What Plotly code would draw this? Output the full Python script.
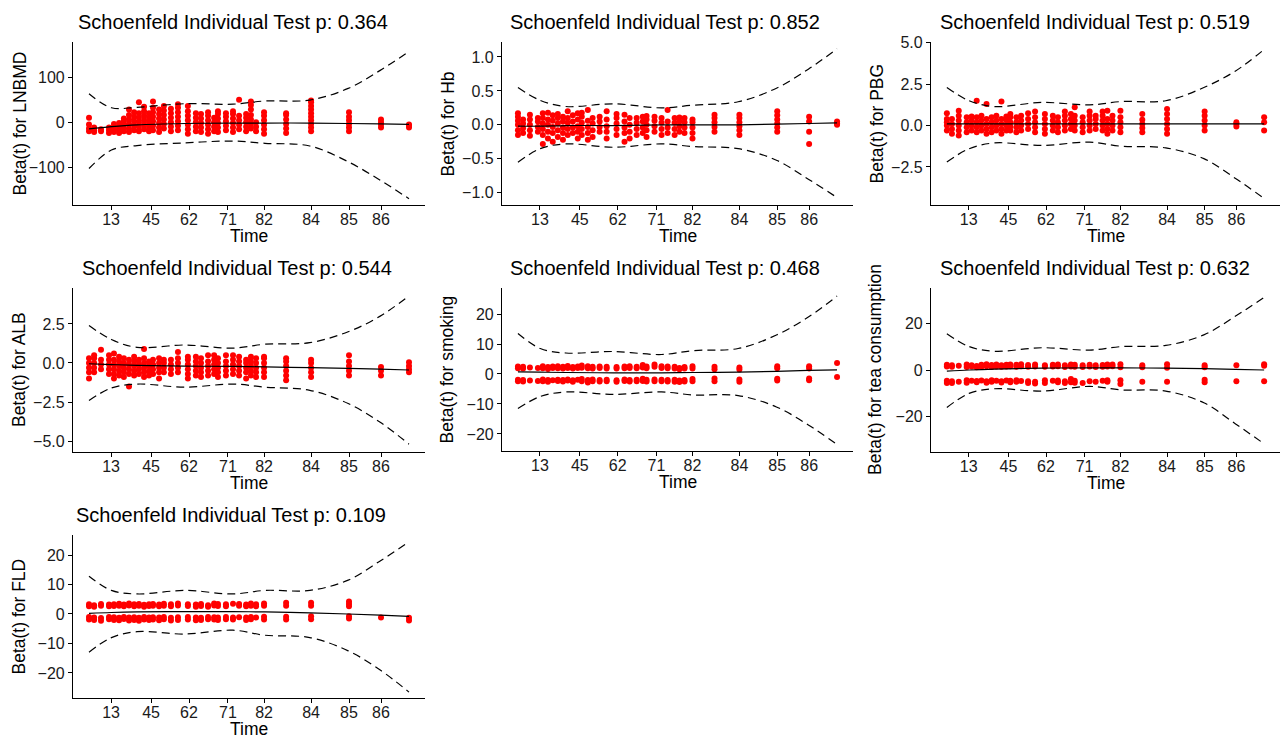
import plotly.graph_objects as go

# ---------------- data ----------------
# event-time stacks on the (KM-transformed) time axis
time_pos = [0.0, 0.016, 0.0375, 0.0625, 0.078, 0.094, 0.109, 0.125, 0.141, 0.156,
            0.172, 0.1875, 0.2, 0.219, 0.234, 0.256, 0.278, 0.309, 0.334, 0.35,
            0.372, 0.391, 0.403, 0.428, 0.45, 0.469, 0.491, 0.506, 0.522, 0.547,
            0.616, 0.694, 0.8125, 0.9125, 1.0]
tick_pos = [0.069, 0.194, 0.3125, 0.434, 0.547, 0.694, 0.8125, 0.9125]
tick_labels = ["13", "45", "62", "71", "82", "84", "85", "86"]

# grid for smoothed beta(t) and its confidence band
grid = [0, 0.07, 0.15, 0.3, 0.45, 0.55, 0.69, 0.81, 0.91, 1.0]

lnbmd_resid = [
    [-20, -14, -5, 10], [-22, -18, -12], [-20, -16], [-24, -18, -12], [-22, -16, -10, -4],
    [-24, -18, -10, -2], [-20, -14, -6, 2, 8], [-22, -14, -4, 6, 16, 28], [-18, -8, 2, 12, 22],
    [-20, -10, 0, 10, 20, 44], [-16, -6, 4, 14, 24, 34], [-20, -10, 0, 10, 20],
    [-18, -8, 2, 12, 22, 32, 46], [-22, -12, -2, 8, 18, 28], [-14, -4, 6, 16, 26, 36],
    [-20, -10, 0, 10, 20, 30], [-18, -8, 2, 12, 22, 32, 40], [-26, -16, -6, 4, 14, 24, 36],
    [-20, -10, 0, 10, 20], [-22, -12, -2, 8, 18], [-26, -16, -6, 4, 14, 22], [-20, -10, 0, 10],
    [-22, -12, -2, 8, 18, 24], [-18, -8, 2, 12, 20], [-22, -12, -2, 8, 18, 24],
    [-16, -6, 4, 14, 50], [-20, -10, 0, 10, 18], [-14, -4, 6, 16, 28, 38, 46], [-20, -10, 0],
    [-26, -16, -6, 4, 14, 22], [-24, -14, -4, 6, 16, 20],
    [-20, -12, -4, 4, 12, 20, 28, 36, 44, 48], [-20, -12, -4, 4, 12, 22], [-12, -6, 0, 6],
    [-12, -8, -5]]
lnbmd_fit = [-15, -10, -6, -3, -2, -2, -2, -3, -4, -5]
lnbmd_upper = [63, 32, 33, 41, 40, 47, 49, 75, 115, 157]
lnbmd_lower = [-103, -62, -52, -46, -42, -47, -53, -88, -129, -170]

hb_resid = [
    [-0.15, -0.08, 0, 0.06, 0.12, 0.17], [-0.12, -0.05, 0.02, 0.08], [-0.16, -0.08, 0, 0.08, 0.15],
    [-0.1, -0.03, 0.05, 0.1], [-0.28, -0.15, -0.06, 0.02, 0.1, 0.17], [-0.2, -0.1, 0, 0.08, 0.18],
    [-0.25, -0.12, -0.03, 0.06, 0.14], [-0.18, -0.08, 0.02, 0.1, 0.16],
    [-0.22, -0.12, -0.04, 0.05, 0.12], [-0.15, -0.06, 0.03, 0.1, 0.2], [-0.12, -0.04, 0.05, 0.14],
    [-0.2, -0.1, -0.02, 0.08, 0.17], [-0.15, -0.06, 0.03, 0.12, 0.18],
    [-0.22, -0.12, -0.03, 0.06, 0.22], [-0.18, -0.08, 0.02, 0.1], [-0.1, -0.03, 0.05, 0.12],
    [-0.2, -0.1, -0.02, 0.08, 0.2], [-0.15, -0.06, 0.02, 0.1, 0.16],
    [-0.25, -0.12, -0.04, 0.05, 0.15], [-0.2, -0.1, 0, 0.1], [-0.15, -0.06, 0.03, 0.1],
    [-0.12, -0.04, 0.05, 0.12], [-0.18, -0.08, 0, 0.08, 0.13], [-0.1, -0.02, 0.06, 0.12],
    [-0.15, -0.06, 0.03, 0.1], [-0.12, -0.04, 0.05, 0.22], [-0.15, -0.06, 0.03, 0.1],
    [-0.1, -0.02, 0.05, 0.11], [-0.12, -0.04, 0.04, 0.1], [-0.2, -0.12, -0.04, 0.04, 0.08],
    [-0.1, -0.03, 0.04, 0.1, 0.15], [-0.15, -0.08, -0.02, 0.04, 0.1, 0.15],
    [-0.1, -0.04, 0.02, 0.08, 0.14, 0.2], [-0.28, -0.1, 0.05, 0.12], [0.0, 0.02, 0.05]]
hb_fit = [-0.02, -0.02, -0.01, -0.01, 0, 0, 0, 0.01, 0.02, 0.03]
hb_upper = [0.55, 0.36, 0.27, 0.31, 0.25, 0.29, 0.34, 0.54, 0.82, 1.12]
hb_lower = [-0.55, -0.35, -0.28, -0.33, -0.28, -0.32, -0.35, -0.52, -0.8, -1.07]

pbg_resid = [
    [-0.3, 0, 0.2, 0.4, 0.75], [-0.5, -0.2, 0.1, 0.4], [-0.6, -0.3, 0, 0.3, 0.6, 0.9],
    [-0.4, -0.1, 0.2, 0.5], [-0.3, 0, 0.3, 0.55], [-0.4, -0.1, 0.2, 0.5, 1.5],
    [-0.3, 0, 0.3, 0.6], [-0.5, -0.2, 0.1, 0.4, 1.3], [-0.4, -0.1, 0.2, 0.5],
    [-0.3, 0, 0.3, 0.6], [-0.5, -0.2, 0.1, 0.4, 1.45], [-0.3, 0, 0.3, 0.55],
    [-0.3, -0.05, 0.2, 0.5, 0.7], [-0.4, -0.1, 0.2, 0.5], [-0.3, 0, 0.3, 0.6],
    [-0.2, 0.1, 0.4, 0.75], [-0.4, -0.1, 0.2, 0.5, 0.85], [-0.5, -0.2, 0.1, 0.4, 0.7],
    [-0.3, 0, 0.3, 0.6], [-0.4, -0.1, 0.2, 0.5], [-0.3, 0, 0.3, 0.6, 0.85],
    [-0.2, 0.1, 0.4, 0.7], [-0.3, 0, 0.3, 0.6, 1.1], [-0.4, -0.1, 0.2, 0.5],
    [-0.3, 0, 0.3, 0.6, 0.85], [-0.2, 0.1, 0.4, 0.6], [-0.3, 0, 0.3, 0.6, 0.85],
    [-0.5, -0.2, 0.1, 0.4, 0.9], [-0.3, 0, 0.3, 0.6], [-0.4, -0.1, 0.2, 0.5, 0.9],
    [-0.4, -0.15, 0.1, 0.35, 0.7], [-0.5, -0.2, 0.1, 0.4, 0.7, 1.0],
    [-0.3, 0, 0.3, 0.6, 0.85], [-0.05, 0.1, 0.2], [-0.3, 0.2, 0.5]]
pbg_fit = [0.1, 0.1, 0.1, 0.1, 0.1, 0.1, 0.1, 0.1, 0.1, 0.1]
pbg_upper = [2.3, 1.5, 1.15, 1.4, 1.25, 1.45, 1.5, 2.3, 3.3, 4.6]
pbg_lower = [-2.2, -1.4, -1.05, -1.2, -1.0, -1.25, -1.35, -2.0, -3.2, -4.4]

alb_resid = [
    [-1.0, -0.6, -0.3, 0, 0.3], [-0.6, -0.3, 0, 0.3, 0.5], [-0.4, -0.1, 0.2, 0.85],
    [-0.7, -0.4, -0.1, 0.2, 0.5], [-1.0, -0.7, -0.4, -0.1, 0.2, 0.6], [-0.8, -0.5, -0.2, 0.1, 0.4],
    [-0.9, -0.6, -0.3, 0, 0.3], [-1.5, -0.7, -0.4, -0.1, 0.2], [-0.8, -0.5, -0.2, 0.1, 0.4],
    [-0.7, -0.4, -0.1, 0.2], [-0.9, -0.6, -0.3, 0, 0.3, 0.9], [-0.8, -0.5, -0.2, 0.1],
    [-0.7, -0.4, -0.1, 0.2], [-1.0, -0.6, -0.3, 0, 0.3], [-0.6, -0.3, 0, 0.2],
    [-0.7, -0.4, -0.1, 0.2], [-0.6, -0.3, 0, 0.3, 0.7], [-1.0, -0.7, -0.4, -0.1, 0.2, 0.4],
    [-0.8, -0.5, -0.2, 0.1, 0.4], [-0.9, -0.6, -0.3, 0, 0.3], [-0.8, -0.5, -0.2, 0.1, 0.5],
    [-0.7, -0.4, -0.1, 0.2, 0.5], [-0.9, -0.6, -0.3, 0, 0.3], [-0.8, -0.5, -0.2, 0.1, 0.5],
    [-0.7, -0.4, -0.1, 0.2, 0.5], [-0.8, -0.5, -0.2, 0.1, 0.4], [-1.0, -0.6, -0.3, 0, 0.2],
    [-0.8, -0.5, -0.2, 0.1, 0.4], [-0.9, -0.6, -0.3, 0, 0.3], [-0.9, -0.6, -0.3, 0, 0.3, 0.4],
    [-1.1, -0.8, -0.5, -0.2, 0.1, 0.3], [-0.9, -0.6, -0.3, 0, 0.2], [-0.8, -0.5, -0.2, 0.1, 0.5],
    [-0.8, -0.5, -0.25], [-0.6, -0.4, -0.2, 0.05]]
alb_fit = [-0.05, -0.1, -0.15, -0.2, -0.22, -0.25, -0.3, -0.35, -0.4, -0.45]
alb_upper = [2.4, 1.5, 1.0, 1.15, 0.95, 1.2, 1.3, 2.0, 3.0, 4.3]
alb_lower = [-2.4, -1.6, -1.35, -1.55, -1.35, -1.55, -1.75, -2.6, -3.8, -5.2]

smoking_resid = [
    [2.5, 1.9, -1.9, -2.4], [2.4, 1.8, -2.0, -2.5], [2.2, -2.2], [2.0, -2.3],
    [2.6, 1.9, -1.8, -2.4], [2.3, 1.7, -2.0, -2.6], [2.5, 2.0, -2.1], [2.6, 1.9, -1.9, -2.3],
    [2.4, 1.8, -2.0, -2.5], [2.7, 2.0, -1.8, -2.2], [2.3, 1.8, -2.1, -2.6], [2.5, 2.0, -1.9],
    [2.8, 2.1, -1.7, -2.4], [2.6, 1.9, -2.0, -2.8], [2.4, 1.8, -1.8, -2.4], [2.5, 2.0, -2.0, -2.5],
    [2.4, 1.8, -1.9, -2.4], [2.3, 1.8, -2.1, -2.6], [2.5, 1.9, -1.8, -2.3], [2.6, 2.0, -2.0, -2.5],
    [2.4, 1.9, -1.9, -2.4], [3.0, 2.2, -1.6, -2.3], [2.5, 1.9, -1.9, -2.5], [3.2, 2.4, -1.8, -2.4],
    [2.6, 2.0, -1.9, -2.4], [2.5, 1.9, -2.0, -2.5], [2.4, 1.8, -1.9, -2.6], [2.0, 1.6, -2.2, -2.7],
    [2.3, 1.8, -2.0, -2.5], [2.6, 1.8, -1.7, -2.4], [2.4, 1.6, -1.5, -2.4], [2.2, 1.5, -1.8, -2.6],
    [2.6, 1.9, -1.6, -2.2], [2.6, 1.8, -1.5, -2.1], [3.7, -1.0]]
smoking_fit = [0.7, 0.6, 0.5, 0.4, 0.4, 0.5, 0.6, 0.9, 1.2, 1.4]
smoking_upper = [13.5, 8.5, 7.0, 7.5, 6.5, 7.8, 8.5, 13.0, 19.0, 26.0]
smoking_lower = [-11.5, -7.5, -6.0, -6.8, -6.0, -7.0, -7.2, -11.0, -17.0, -23.5]

tea_resid = [
    [2.2, 1.5, -4.6, -5.5], [2.0, 1.4, -4.8, -5.6], [1.8, -5.0], [2.3, 1.3, -4.4, -5.4],
    [2.0, 1.5, -4.6], [1.7, 1.2, -4.7, -5.2], [2.2, 1.4, -4.5], [2.5, 1.6, -4.8, -5.4],
    [2.1, 1.3, -4.4, -5.0], [2.4, 1.5, -4.6], [2.0, 1.4, -4.8, -5.3], [2.2, 1.5, -4.5],
    [2.4, 1.6, -4.6, -5.2], [2.2, 1.4, -4.4, -5.0], [2.5, 1.6, -4.7], [2.1, 1.4, -4.8, -5.6],
    [2.3, 1.5, -5.0, -5.8], [2.0, 1.4, -4.4, -5.5], [2.2, 1.5, -4.6], [2.4, 1.6, -4.5, -5.2],
    [2.0, 1.3, -4.8, -5.6], [2.4, 1.5, -3.8, -5.2], [2.2, 1.4, -4.6, -5.4], [2.0, 1.3, -5.5],
    [2.2, 1.5, -4.8], [2.0, 1.3, -5.0], [2.1, 1.4, -4.6], [2.4, 1.5, -4.4, -5.0],
    [2.3, 1.6], [2.5, 1.2, -4.4, -6.0], [2.0, 1.2, -5.0], [2.5, 1.0, -5.0],
    [2.0, 1.2, -4.2, -5.2], [2.0, -4.8], [2.5, 1.8, -4.8]]
tea_fit = [-0.5, 0.0, 0.4, 0.8, 0.9, 0.9, 0.8, 0.6, 0.3, 0.0]
tea_upper = [15.5, 10.0, 8.0, 9.5, 8.5, 10.0, 10.5, 15.0, 23.0, 31.0]
tea_lower = [-16.0, -10.0, -8.0, -9.0, -7.0, -8.5, -9.0, -14.0, -23.0, -31.5]

fld_resid = [
    [3.3, 2.6, -1.0, -1.9], [3.0, 2.5, -1.2, -2.0], [3.4, 2.8, -1.4, -2.3], [3.2, 2.6, -1.0, -1.8],
    [3.3, 2.7, -1.1, -2.0], [3.5, 2.8, -1.3, -2.1], [3.2, 2.6, -1.0, -1.7], [3.6, 2.9, -1.2, -2.2],
    [3.3, 2.6, -1.1, -2.0], [3.4, 2.8, -1.3, -2.3], [3.1, 2.5, -1.0, -1.9], [3.3, 2.7, -1.2, -2.0],
    [3.4, 2.8, -1.1, -1.9], [3.2, 2.6, -1.2, -2.1], [3.5, 2.8, -1.0, -1.8], [3.3, 2.6, -1.3, -2.2],
    [3.6, 2.9, -1.1, -2.0], [3.3, 2.7, -1.0, -1.9], [3.2, 2.5, -1.2, -2.1], [3.4, 2.7, -1.3, -2.0],
    [3.0, 2.5, -1.0, -1.8], [3.6, 2.9, -1.1, -1.9], [3.4, 2.7, -1.2, -2.0], [3.3, 2.6, -1.0, -1.8],
    [3.5, -1.2, -1.9], [3.4, 2.8, -1.1], [3.2, 2.6, -1.2, -2.0], [3.6, 2.8, -1.0, -1.8],
    [3.3, 2.6, -1.2], [3.6, 2.8, -0.9, -1.9], [3.8, 2.8, -0.9, -1.9], [3.8, 2.8, -0.8, -1.8],
    [4.2, 3.4, 2.6, -0.8, -1.5], [-1.2], [-1.3, -2.2]]
fld_fit = [0.2, 0.5, 0.7, 0.8, 0.8, 0.7, 0.4, 0.0, -0.4, -0.8]
fld_upper = [12.8, 8.0, 6.8, 8.0, 6.8, 8.0, 8.0, 11.5, 18.0, 24.5]
fld_lower = [-13.0, -8.0, -6.0, -6.8, -5.5, -7.2, -8.0, -12.5, -19.0, -26.5]

covariates = ["LNBMD", "Hb", "PBG", "ALB", "smoking", "tea consumption", "FLD"]
p_values = ["0.364", "0.852", "0.519", "0.544", "0.468", "0.632", "0.109"]

# ---------------- layout helpers ----------------
W, H = 1282, 738
FONT = "Arial, Liberation Sans, sans-serif"

panels = [
    dict(resid=lnbmd_resid, fit=lnbmd_fit, up=lnbmd_upper, lo=lnbmd_lower,
         yr=[-184, 178], tv=[-100, 0, 100], fmt="d", px=(73, 425, 42, 205), tx=233, yt=19),
    dict(resid=hb_resid, fit=hb_fit, up=hb_upper, lo=hb_lower,
         yr=[-1.18, 1.22], tv=[-1.0, -0.5, 0, 0.5, 1.0], fmt=".1f", px=(502, 853, 42, 205), tx=665, yt=447),
    dict(resid=pbg_resid, fit=pbg_fit, up=pbg_upper, lo=pbg_lower,
         yr=[-4.8, 5.05], tv=[-2.5, 0, 2.5, 5.0], fmt=".1f", px=(931, 1280, 42, 205), tx=1095, yt=876),
    dict(resid=alb_resid, fit=alb_fit, up=alb_upper, lo=alb_lower,
         yr=[-5.7, 4.8], tv=[-5.0, -2.5, 0, 2.5], fmt=".1f", px=(73, 425, 288, 452), tx=237, yt=19),
    dict(resid=smoking_resid, fit=smoking_fit, up=smoking_upper, lo=smoking_lower,
         yr=[-25.7, 28.7], tv=[-20, -10, 0, 10, 20], fmt="d", px=(502, 853, 288, 451), tx=665, yt=446),
    dict(resid=tea_resid, fit=tea_fit, up=tea_upper, lo=tea_lower,
         yr=[-35, 35], tv=[-20, 0, 20], fmt="d", px=(931, 1280, 288, 452), tx=1095, yt=875),
    dict(resid=fld_resid, fit=fld_fit, up=fld_upper, lo=fld_lower,
         yr=[-28.5, 26.8], tv=[-20, -10, 0, 10, 20], fmt="d", px=(73, 425, 535, 698), tx=231, yt=18),
]

fig = go.Figure()
layout = dict(width=W, height=H, margin=dict(l=0, r=0, t=0, b=0, autoexpand=False),
              paper_bgcolor="white", plot_bgcolor="white", showlegend=False,
              font=dict(family=FONT, color="black"), annotations=[])

for i, p in enumerate(panels):
    sfx = "" if i == 0 else str(i + 1)
    xa, ya = "x" + sfx, "y" + sfx
    x0, x1, y0, y1 = p["px"]
    xs = [time_pos[j] for j, ys in enumerate(p["resid"]) for _ in ys]
    yv = [v for ys in p["resid"] for v in ys]
    fig.add_trace(go.Scatter(x=xs, y=yv, mode="markers", xaxis=xa, yaxis=ya,
                             marker=dict(color="#FF0000", size=6, line=dict(width=0)),
                             hoverinfo="skip"))
    for arr, dash in ((p["up"], "8px,5px"), (p["lo"], "8px,5px"), (p["fit"], "solid")):
        fig.add_trace(go.Scatter(x=grid, y=arr, mode="lines", xaxis=xa, yaxis=ya,
                                 line=dict(color="black", width=1.2, dash=dash,
                                           shape="spline", smoothing=1.0),
                                 hoverinfo="skip"))
    layout["xaxis" + sfx] = dict(
        domain=[x0 / W, x1 / W], anchor=ya, range=[-0.05, 1.05],
        tickvals=tick_pos, ticktext=tick_labels, showline=True, linecolor="black",
        linewidth=1.2, ticks="outside", ticklen=4, tickcolor="black", showgrid=False,
        zeroline=False, automargin=False, ticklabelstandoff=-4,
        tickfont=dict(size=16, color="#1a1a1a", family=FONT))
    layout["yaxis" + sfx] = dict(
        domain=[1 - y1 / H, 1 - y0 / H], anchor=xa, range=p["yr"], tickvals=p["tv"],
        tickformat=p["fmt"], showline=True, linecolor="black", linewidth=1.2,
        ticks="outside", ticklen=4, tickcolor="black", showgrid=False, zeroline=False,
        automargin=False, tickfont=dict(size=16, color="#1a1a1a", family=FONT))
    # title
    layout["annotations"].append(dict(
        text="Schoenfeld Individual Test p: " + p_values[i], xref="paper", yref="paper",
        x=p["tx"] / W, y=1 - (y0 - 20) / H, xanchor="center", yanchor="middle",
        showarrow=False, font=dict(size=20, family=FONT, color="black")))
    # y axis title
    layout["annotations"].append(dict(
        text="Beta(t) for " + covariates[i], xref="paper", yref="paper",
        x=p["yt"] / W, y=1 - ((y0 + y1) / 2) / H, xanchor="center", yanchor="middle",
        textangle=-90, showarrow=False, font=dict(size=17.5, family=FONT, color="black")))
    # x axis title
    layout["annotations"].append(dict(
        text="Time", xref="paper", yref="paper",
        x=((x0 + x1) / 2) / W, y=1 - (y1 + 31) / H, xanchor="center", yanchor="middle",
        showarrow=False, font=dict(size=17.5, family=FONT, color="black")))

fig.update_layout(**layout)
fig.write_html("out.html", config={"displayModeBar": False},
               post_script="document.body.style.margin='0';document.body.style.overflow='hidden';")
